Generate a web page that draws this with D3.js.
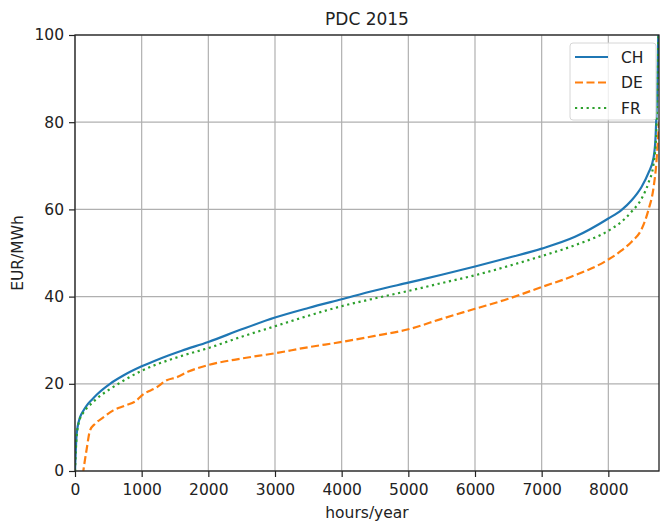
<!DOCTYPE html>
<html>
<head>
<meta charset="utf-8">
<script src="https://cdn.jsdelivr.net/npm/d3@7"></script>
<style>
  body { margin: 0; background: #fff; }
  svg { font-family: "DejaVu Sans", sans-serif; }
</style>
</head>
<body>
<svg id="chart"></svg>
<script>
// price duration curves
const chHours = [0, 25, 75, 125, 175, 250, 325, 525, 725, 1000, 1200, 1400, 1600, 2000, 2500, 3000, 3500, 4000, 4500, 5000, 5500, 6000, 6500, 7000, 7500, 8000, 8200, 8350, 8500, 8600, 8680, 8710, 8740, 8760];
const chValues = [0, 8.5, 12.3, 13.8, 15, 16.3, 17.5, 20, 21.9, 24, 25.3, 26.5, 27.6, 29.6, 32.5, 35.2, 37.4, 39.4, 41.4, 43.2, 45, 46.9, 48.9, 51, 53.7, 57.9, 59.9, 62.1, 65.2, 68.3, 72, 77, 92, 110];

const deHours = [0, 100, 125, 175, 225, 300, 425, 575, 750, 925, 1000, 1225, 1375, 1525, 1700, 2000, 2500, 3000, 3500, 4000, 4500, 5000, 5500, 6000, 6500, 7000, 7500, 8000, 8200, 8350, 8500, 8600, 8680, 8720, 8740, 8760];
const deValues = [-30, -3, 0, 5, 9.3, 10.8, 12.3, 13.9, 15, 16.2, 17.3, 19.2, 20.8, 21.5, 22.8, 24.3, 25.8, 27, 28.4, 29.6, 31, 32.5, 34.9, 37.2, 39.5, 42.2, 44.9, 48.5, 50.6, 52.6, 55.5, 59.8, 65.2, 70.6, 75, 80];

const frHours = [0, 25, 75, 125, 175, 250, 325, 525, 725, 1000, 1200, 1400, 1600, 2000, 2500, 3000, 3500, 4000, 4500, 5000, 5500, 6000, 6500, 7000, 7500, 8000, 8200, 8350, 8500, 8600, 8680, 8720, 8740, 8760];
const frValues = [0, 8, 12, 13.4, 14.4, 15.5, 16.6, 18.8, 20.7, 23, 24.3, 25.4, 26.4, 28.2, 30.8, 33.2, 35.6, 37.8, 39.6, 41.3, 43.1, 44.9, 47, 49.3, 51.8, 55.1, 57.2, 59.5, 62.5, 66, 70.6, 78, 90, 110];

const seriesNames = ["CH", "DE", "FR"];
const xTicks = [0, 1000, 2000, 3000, 4000, 5000, 6000, 7000, 8000];
const yTicks = [0, 20, 40, 60, 80, 100];

const W = 660, H = 524;
const margin = { top: 35, right: 1, bottom: 53, left: 75 };
const width = W - margin.left - margin.right,
  height = H - margin.top - margin.bottom;

const svg = d3.select("#chart")
  .attr("width", W)
  .attr("height", H);

const g = svg.append("g")
  .attr("transform", `translate(${margin.left},${margin.top})`);

const x = d3.scaleLinear().domain([0, 8760]).range([0, width]);
const y = d3.scaleLinear().domain([0, 100]).range([height, 0]);

// grid
g.append("g")
  .selectAll("line")
  .data(xTicks)
  .enter()
  .append("line")
  .attr("x1", d => x(d)).attr("x2", d => x(d))
  .attr("y1", 0).attr("y2", height)
  .attr("stroke", "#b0b0b0")
  .attr("stroke-width", 1.2);

g.append("g")
  .selectAll("line")
  .data(yTicks)
  .enter()
  .append("line")
  .attr("x1", 0).attr("x2", width)
  .attr("y1", d => y(d)).attr("y2", d => y(d))
  .attr("stroke", "#b0b0b0")
  .attr("stroke-width", 1.2);

// clip for lines
svg.append("defs").append("clipPath")
  .attr("id", "clip")
  .append("rect")
  .attr("width", width)
  .attr("height", height);

const series = [
  { name: "CH", hours: chHours, values: chValues, color: "#1f77b4", dash: null },
  { name: "DE", hours: deHours, values: deValues, color: "#ff7f0e", dash: "8,3.5" },
  { name: "FR", hours: frHours, values: frValues, color: "#2ca02c", dash: "2.2,3.6" }
];

const line = d3.line()
  .x(d => x(d[0]))
  .y(d => y(d[1]))
  .curve(d3.curveMonotoneX);

g.append("g")
  .attr("clip-path", "url(#clip)")
  .selectAll("path")
  .data(series)
  .enter()
  .append("path")
  .attr("d", s => line(d3.zip(s.hours, s.values)))
  .attr("fill", "none")
  .attr("stroke", s => s.color)
  .attr("stroke-width", 2.2)
  .attr("stroke-dasharray", s => s.dash);

// axes
const xAxis = g.append("g")
  .attr("transform", `translate(0,${height})`)
  .call(d3.axisBottom(x).tickValues(xTicks).tickFormat(d3.format("d")).tickSize(6).tickPadding(7));
const yAxis = g.append("g")
  .call(d3.axisLeft(y).tickValues(yTicks).tickSize(6).tickPadding(5));

[xAxis, yAxis].forEach(a => {
  a.select(".domain").remove();
  a.selectAll("line").attr("stroke", "#222").attr("stroke-width", 1.2);
  a.selectAll("text")
    .attr("fill", "#222")
    .style("font-size", "15.5px")
    .style("font-family", "DejaVu Sans, sans-serif");
});

// frame
g.append("rect")
  .attr("width", width)
  .attr("height", height)
  .attr("fill", "none")
  .attr("stroke", "#222")
  .attr("stroke-width", 1.3);

// title and labels
svg.append("text")
  .attr("x", margin.left + width / 2)
  .attr("y", 25)
  .attr("text-anchor", "middle")
  .style("font-size", "17px")
  .attr("fill", "#222")
  .text("PDC 2015");

svg.append("text")
  .attr("x", margin.left + width / 2)
  .attr("y", 518)
  .attr("text-anchor", "middle")
  .style("font-size", "15.5px")
  .attr("fill", "#222")
  .text("hours/year");

svg.append("text")
  .attr("transform", `translate(23,${margin.top + height / 2}) rotate(-90)`)
  .attr("text-anchor", "middle")
  .style("font-size", "15.5px")
  .attr("fill", "#222")
  .text("EUR/MWh");

// legend
const legend = svg.append("g")
  .attr("transform", "translate(570,43)");

legend.append("rect")
  .attr("width", 86)
  .attr("height", 77)
  .attr("rx", 3)
  .attr("fill", "#fff")
  .attr("fill-opacity", 0.8)
  .attr("stroke", "#d6d6d6");

series.forEach((s, i) => {
  const ly = 14 + i * 25.5;
  legend.append("line")
    .attr("x1", 5).attr("x2", 38)
    .attr("y1", ly).attr("y2", ly)
    .attr("stroke", s.color)
    .attr("stroke-width", 2.2)
    .attr("stroke-dasharray", s.dash);
  legend.append("text")
    .attr("x", 51)
    .attr("y", ly + 5.5)
    .style("font-size", "15.5px")
    .attr("fill", "#222")
    .text(seriesNames[i]);
});
</script>
</body>
</html>
